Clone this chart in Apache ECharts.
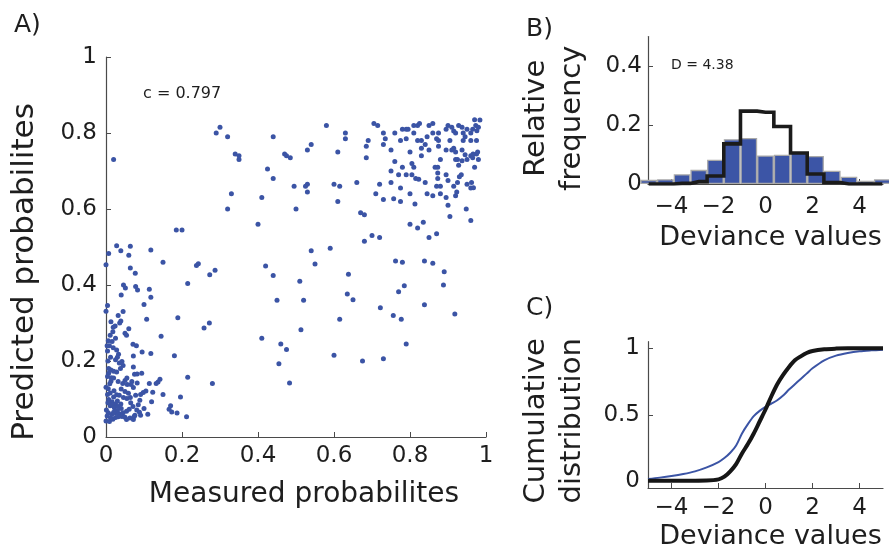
<!DOCTYPE html>
<html>
<head>
<meta charset="utf-8">
<script src="https://cdn.jsdelivr.net/npm/echarts@6/dist/echarts.min.js"></script>
<style>
  html, body { margin: 0; padding: 0; background: #fff; }
  #main { width: 889px; height: 552px; }
</style>
</head>
<body>
<div id="main"></div>
<script>
// A) measured vs predicted probabilities, [measured, predicted]
var points = [
  [0.02,0.73],[0.29,0.80],[0.30,0.815],[0.32,0.79],[0.34,0.745],[0.35,0.74],[0.35,0.73],[0.33,0.64],[0.32,0.60],[0.185,0.545],[0.20,0.545],
  [0.44,0.79],[0.425,0.705],[0.44,0.68],[0.41,0.63],[0.40,0.56],[0.47,0.745],[0.475,0.74],[0.485,0.735],[0.495,0.66],[0.50,0.60],[0.525,0.66],
  [0.53,0.665],[0.53,0.645],[0.53,0.755],[0.54,0.77],[0.58,0.82],[0.61,0.75],[0.60,0.665],[0.615,0.66],[0.61,0.62],[0.63,0.785],[0.63,0.80],
  [0.66,0.67],[0.67,0.59],[0.68,0.585],[0.685,0.765],[0.69,0.78],[0.685,0.735],[0.705,0.825],[0.715,0.82],[0.70,0.53],[0.72,0.525],[0.68,0.515],
  [0.72,0.665],[0.71,0.64],[0.73,0.625],[0.73,0.80],[0.735,0.785],[0.73,0.77],[0.75,0.755],[0.76,0.80],[0.76,0.725],[0.77,0.69],[0.75,0.70],
  [0.75,0.67],[0.757,0.627],[0.775,0.62],[0.775,0.78],[0.78,0.71],[0.775,0.655],[0.78,0.81],[0.79,0.81],[0.795,0.81],[0.79,0.785],[0.79,0.69],
  [0.80,0.75],[0.805,0.72],[0.81,0.71],[0.805,0.69],[0.80,0.64],[0.80,0.56],[0.81,0.82],[0.81,0.80],[0.82,0.82],[0.825,0.825],[0.82,0.78],
  [0.813,0.613],[0.815,0.68],[0.823,0.678],[0.82,0.55],[0.835,0.565],[0.83,0.78],[0.84,0.77],[0.83,0.76],[0.83,0.74],[0.84,0.67],[0.845,0.64],
  [0.86,0.635],[0.85,0.525],[0.87,0.535],[0.85,0.82],[0.86,0.825],[0.86,0.80],[0.845,0.79],[0.85,0.755],[0.87,0.785],[0.875,0.80],[0.875,0.78],
  [0.875,0.765],[0.866,0.71],[0.873,0.71],[0.88,0.73],[0.873,0.695],[0.873,0.68],[0.87,0.66],[0.88,0.66],[0.88,0.64],[0.895,0.63],[0.90,0.61],
  [0.905,0.58],[0.895,0.69],[0.90,0.675],[0.895,0.755],[0.895,0.81],[0.90,0.82],[0.91,0.815],[0.905,0.78],[0.915,0.805],[0.92,0.80],[0.915,0.76],
  [0.91,0.755],[0.915,0.66],[0.92,0.75],[0.92,0.73],[0.925,0.73],[0.928,0.715],[0.925,0.67],[0.923,0.645],[0.92,0.635],[0.93,0.685],[0.935,0.69],
  [0.928,0.82],[0.937,0.815],[0.94,0.80],[0.95,0.81],[0.945,0.79],[0.94,0.78],[0.937,0.755],[0.945,0.743],[0.937,0.727],[0.95,0.73],[0.95,0.665],
  [0.96,0.655],[0.962,0.67],[0.967,0.656],[0.948,0.60],[0.96,0.57],[0.96,0.78],[0.96,0.74],[0.966,0.745],[0.965,0.735],[0.975,0.745],[0.978,0.75],
  [0.97,0.71],[0.98,0.73],[0.975,0.78],[0.97,0.835],[0.973,0.82],[0.98,0.815],[0.976,0.806],[0.984,0.834],[0.965,0.81],[0.96,0.80],
  [0.42,0.45],[0.44,0.425],[0.45,0.36],[0.41,0.26],[0.46,0.245],[0.475,0.23],[0.455,0.193],[0.483,0.142],[0.51,0.41],[0.52,0.36],[0.513,0.282],
  [0.54,0.49],[0.55,0.455],[0.59,0.497],[0.60,0.215],[0.615,0.31],[0.638,0.428],[0.635,0.376],[0.65,0.361],[0.675,0.20],[0.722,0.34],[0.73,0.206],
  [0.756,0.32],[0.777,0.31],[0.762,0.463],[0.78,0.46],[0.77,0.382],[0.785,0.398],[0.79,0.245],[0.838,0.463],[0.86,0.457],[0.838,0.348],[0.89,0.435],
  [0.888,0.40],[0.918,0.324],
  [0.238,0.451],[0.243,0.456],[0.273,0.427],[0.287,0.439],[0.215,0.404],[0.189,0.314],[0.258,0.287],[0.272,0.30],[0.28,0.141],[0.215,0.157],
  [0.196,0.105],[0.212,0.053],[0.18,0.214],[0.15,0.46],[0.118,0.492],[0.114,0.389],[0.118,0.368],[0.10,0.349],[0.107,0.31],[0.145,0.265],
  [0.118,0.22],[0.095,0.224],[0.142,0.152],[0.137,0.145],[0.132,0.141],[0.15,0.112],[0.114,0.141],[0.123,0.118],[0.12,0.093],[0.17,0.082],
  [0.166,0.073],[0.173,0.066],[0.187,0.063],
  [0.028,0.503],[0.007,0.483],[0.039,0.49],[0.064,0.502],[0.06,0.478],[0.0,0.453],[0.064,0.445],[0.077,0.431],[0.046,0.40],[0.051,0.392],
  [0.04,0.374],[0.078,0.396],[0.083,0.387],[0.004,0.346],[0.0,0.331],[0.032,0.32],[0.039,0.305],[0.036,0.30],[0.013,0.303],[0.019,0.289],
  [0.024,0.292],[0.018,0.277],[0.06,0.285],[0.05,0.273],[0.054,0.268],[0.011,0.268],[0.006,0.253],[0.016,0.251],[0.009,0.24],[0.019,0.235],
  [0.004,0.226],[0.071,0.244],[0.08,0.24],[0.028,0.229],[0.033,0.218],[0.03,0.21],[0.072,0.213],[0.025,0.203],[0.035,0.195],[0.042,0.199],
  [0.045,0.188],[0.007,0.18],[0.013,0.176],[0.02,0.173],[0.007,0.168],[0.004,0.159],[0.014,0.156],[0.038,0.18],[0.028,0.171],[0.072,0.184],
  [0.075,0.165],[0.082,0.166],[0.094,0.168],[0.013,0.147],[0.032,0.146],[0.044,0.141],[0.05,0.149],[0.056,0.138],[0.068,0.146],[0.082,0.142],
  [0.066,0.138],[0.072,0.13],[0.0,0.131],[0.006,0.127],[0.004,0.112],[0.011,0.116],[0.021,0.122],[0.028,0.111],[0.04,0.126],[0.05,0.12],
  [0.059,0.115],[0.046,0.104],[0.055,0.101],[0.064,0.104],[0.078,0.11],[0.091,0.112],[0.098,0.117],[0.105,0.121],[0.089,0.097],[0.007,0.099],
  [0.016,0.093],[0.025,0.087],[0.011,0.082],[0.022,0.077],[0.032,0.08],[0.039,0.087],[0.001,0.071],[0.006,0.064],[0.015,0.059],[0.025,0.064],
  [0.035,0.061],[0.045,0.064],[0.054,0.068],[0.061,0.073],[0.071,0.08],[0.081,0.071],[0.088,0.065],[0.091,0.057],[0.076,0.057],[0.0,0.042],
  [0.009,0.041],[0.018,0.047],[0.025,0.051],[0.032,0.053],[0.042,0.054],[0.05,0.052],[0.063,0.05],[0.072,0.046],[0.054,0.046],[0.074,0.054],
  [0.003,0.055],[0.012,0.05],[0.02,0.065],[0.03,0.07],[0.04,0.075],[0.015,0.085],[0.005,0.09],[0.03,0.095],[0.02,0.105],[0.035,0.11],
  [0.01,0.14],[0.02,0.155],[0.005,0.2],[0.012,0.21],[0.003,0.24],[0.025,0.26],[0.045,0.33],[0.055,0.155],[0.065,0.09],[0.085,0.085],
  [0.1,0.075],[0.11,0.06]
];
var probTicks = [0, 0.2, 0.4, 0.6, 0.8, 1];

// B) histogram of deviance values
var binCenters = [-4.97, -4.26, -3.55, -2.84, -2.13, -1.42, -0.71, 0, 0.71, 1.42, 2.13, 2.84, 3.55, 4.26, 4.97];
var measuredFreq = [0.014, 0.016, 0.033, 0.048, 0.082, 0.152, 0.156, 0.097, 0.099, 0.107, 0.095, 0.045, 0.025, 0.011, 0.016];
var nullFreq = [0, 0, 0.002, 0.008, 0.027, 0.136, 0.247, 0.243, 0.195, 0.105, 0.034, 0.005, 0, 0, 0];
var devTicks = [-4, -2, 0, 2, 4];
var freqTicks = [0, 0.2, 0.4];

// C) cumulative distributions
var cdfX = [-5, -4.5, -4, -3.5, -3, -2.5, -2, -1.75, -1.5, -1.25, -1, -0.75, -0.5, -0.25, 0, 0.25, 0.5, 0.75, 1, 1.25, 1.5, 1.75, 2, 2.5, 3, 3.5, 4, 4.5, 5];
var measuredCdf = [0.018, 0.028, 0.04, 0.055, 0.075, 0.105, 0.145, 0.175, 0.215, 0.27, 0.36, 0.43, 0.49, 0.53, 0.56, 0.585, 0.61, 0.645, 0.69, 0.73, 0.77, 0.81, 0.85, 0.91, 0.945, 0.965, 0.978, 0.985, 0.99];
var nullCdf = [0.005, 0.005, 0.005, 0.005, 0.005, 0.006, 0.015, 0.035, 0.075, 0.13, 0.21, 0.28, 0.36, 0.45, 0.54, 0.64, 0.73, 0.8, 0.86, 0.91, 0.94, 0.965, 0.98, 0.993, 0.998, 1, 1, 1, 1];
var cdfTicks = [0, 0.5, 1];

var FONT = 'DejaVu Sans';
var BLUE = '#3b54a5';
var AXIS = '#4a4a4a';
var TXT = '#1e1e1e';

function minus(v) {
  return String(v).replace('-', '\u2212');
}

function pair(xs, ys) {
  return xs.map(function (x, i) { return [x, ys[i]]; });
}

function valAxis(opt) {
  var ax = {
    type: 'value',
    axisLine: { show: true, onZero: false, lineStyle: { color: AXIS, width: 1.2 } },
    axisTick: { show: true, inside: true, length: 5, lineStyle: { color: AXIS } },
    axisLabel: { color: TXT, fontFamily: FONT, fontSize: 23, margin: 8, showMinLabel: true, showMaxLabel: true },
    splitLine: { show: false },
    nameLocation: 'middle',
    nameTextStyle: { color: TXT, fontFamily: FONT, fontSize: 28 }
  };
  for (var k in opt) {
    if (typeof opt[k] === 'object' && ax[k] && !Array.isArray(opt[k])) {
      ax[k] = Object.assign({}, ax[k], opt[k]);
    } else {
      ax[k] = opt[k];
    }
  }
  return ax;
}

var chart = echarts.init(document.getElementById('main'), null, { renderer: 'canvas' });

var option = {
  backgroundColor: '#ffffff',
  animation: false,
  grid: [
    { left: 106, top: 57, width: 380, height: 380, outerBoundsMode: 'none' },
    { left: 648, top: 36.5, width: 235, height: 147.5, outerBoundsMode: 'none' },
    { left: 648, top: 341.7, width: 235, height: 146.3, outerBoundsMode: 'none' }
  ],
  xAxis: [
    valAxis({
      gridIndex: 0, min: 0, max: 1,
      axisLabel: { customValues: probTicks },
      axisTick: { customValues: probTicks },
      name: 'Measured probabilites', nameGap: 44,
      nameTextStyle: { fontSize: 28, padding: [0, 0, 0, 16] }
    }),
    valAxis({
      gridIndex: 1, min: -5, max: 5,
      axisLabel: { customValues: devTicks, formatter: minus, margin: 12 },
      axisTick: { customValues: devTicks },
      name: 'Deviance values', nameGap: 40,
      nameTextStyle: { fontSize: 27, padding: [0, 0, 0, 10] }
    }),
    valAxis({
      gridIndex: 2, min: -5, max: 5,
      axisLabel: { customValues: devTicks, formatter: minus, margin: 9 },
      axisTick: { customValues: devTicks },
      name: 'Deviance values', nameGap: 35,
      nameTextStyle: { fontSize: 27, padding: [0, 0, 0, 10] }
    })
  ],
  yAxis: [
    valAxis({
      gridIndex: 0, min: 0, max: 1,
      axisLabel: { customValues: probTicks, margin: 9 },
      axisTick: { customValues: probTicks },
      name: 'Predicted probabilites', nameGap: 66,
      nameTextStyle: { fontSize: 31, padding: [0, 50, 0, 0] }
    }),
    valAxis({
      gridIndex: 1, min: 0, max: 0.5,
      axisLabel: { customValues: freqTicks, margin: 6 },
      axisTick: { customValues: freqTicks },
      name: 'Relative\nfrequency', nameGap: 58,
      nameTextStyle: { fontSize: 29, lineHeight: 36, padding: [0, 16, 0, 0] }
    }),
    valAxis({
      gridIndex: 2, min: -0.05, max: 1.05,
      axisLabel: { customValues: cdfTicks, margin: 8 },
      axisTick: { customValues: cdfTicks },
      name: 'Cumulative\ndistribution', nameGap: 58,
      nameTextStyle: { fontSize: 29, lineHeight: 36, padding: [0, 12, 0, 0] }
    })
  ],
  series: [
    {
      name: 'probabilities',
      type: 'scatter',
      xAxisIndex: 0, yAxisIndex: 0,
      symbolSize: 5,
      itemStyle: { color: BLUE, opacity: 1 },
      data: points
    },
    {
      name: 'measured histogram',
      type: 'bar',
      xAxisIndex: 1, yAxisIndex: 1,
      barWidth: 16.7,
      clip: true,
      itemStyle: { color: '#3c55a6', borderColor: '#a9a9a9', borderWidth: 1.3 },
      data: pair(binCenters, measuredFreq)
    },
    {
      name: 'null histogram',
      type: 'line',
      xAxisIndex: 1, yAxisIndex: 1,
      step: 'middle',
      showSymbol: false,
      clip: true,
      lineStyle: { color: '#1b1b1b', width: 3.6, join: 'miter' },
      data: pair(binCenters, nullFreq)
    },
    {
      name: 'measured cdf',
      type: 'line',
      xAxisIndex: 2, yAxisIndex: 2,
      showSymbol: false,
      smooth: 0.3,
      lineStyle: { color: BLUE, width: 2 },
      data: pair(cdfX, measuredCdf)
    },
    {
      name: 'null cdf',
      type: 'line',
      xAxisIndex: 2, yAxisIndex: 2,
      showSymbol: false,
      smooth: 0.3,
      lineStyle: { color: '#161616', width: 4 },
      data: pair(cdfX, nullCdf)
    }
  ],
  graphic: [
    { type: 'text', left: 14, top: 13, style: { text: 'A)', font: '25px "DejaVu Sans"', fill: TXT } },
    { type: 'text', left: 526, top: 17, style: { text: 'B)', font: '25px "DejaVu Sans"', fill: TXT } },
    { type: 'text', left: 526, top: 296, style: { text: 'C)', font: '25px "DejaVu Sans"', fill: TXT } },
    { type: 'text', left: 143, top: 86, style: { text: 'c = 0.797', font: '16px "DejaVu Sans"', fill: TXT } },
    { type: 'text', left: 671, top: 58, style: { text: 'D = 4.38', font: '14px "DejaVu Sans"', fill: TXT } }
  ]
};

chart.setOption(option);
</script>
</body>
</html>
